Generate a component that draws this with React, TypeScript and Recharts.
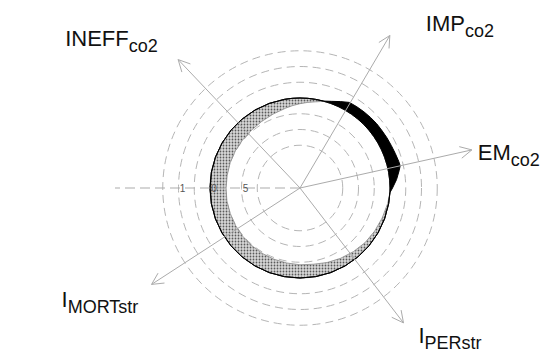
import React from 'react';
import { RadarChart, Radar, PolarGrid, PolarAngleAxis, PolarRadiusAxis } from 'recharts';

// angle (deg, counter-clockwise from east) -> indicator value, 1 = reference circle
const angles = [
  0, 5, 10, 12.5, 15, 20, 25, 30, 35, 40, 45, 50, 55, 60, 65, 70, 75, 80, 85, 90, 95, 100,
  110, 120, 130, 140, 150, 160, 170, 180, 190, 200, 210, 220, 230, 240, 250, 260, 270, 280,
  290, 300, 310, 320, 330, 340, 350, 357,
];
const values = [
  1.04, 1.11, 1.17, 1.2, 1.195, 1.18, 1.17, 1.165, 1.16, 1.16, 1.155, 1.15, 1.145, 1.14,
  1.085, 1.035, 0.995, 0.96, 0.935, 0.91, 0.885, 0.86, 0.82, 0.79, 0.77, 0.76, 0.755, 0.75,
  0.745, 0.745, 0.75, 0.75, 0.755, 0.76, 0.765, 0.77, 0.775, 0.78, 0.79, 0.8, 0.83, 0.86,
  0.89, 0.92, 0.94, 0.96, 0.985, 1.0,
];

// axes
const axisAngles = [12.5, 59.5, 133.5, 180, 213, 307.5];
const axisNames = ['EM', 'IMP', 'INEFF', '', 'I', 'I'];
const axisSubs = ['co2', 'co2', 'co2', '', 'MORTstr', 'PERstr'];

// radial rings and their labels
const ringTicks = [0.25, 0.5, 0.75, 1, 1.25, 1.5, 1.75];
const labelTicks = [0.5, 1, 1.5];
const labelTexts = ['5', '0', '1'];

const data = angles.map((a, i) => ({ angle: a, value: values[i] }));

const CX = 300;
const CY = 188;
const FONT = '"Liberation Sans", Arial, Helvetica, sans-serif';
const AXIS_COLOR = '#ababab';

// per-axis drawing style (length of arrow, label offset from tip)
const axisLen = [176, 177, 177, 185, 177, 170];
const labelOffset: [number, number][] = [
  [6, 10],
  [36, -4],
  [-113, -14],
  [0, 0],
  [-90, 23],
  [15, 20],
];

const toXY = (r: number, deg: number) => {
  const rad = (-deg * Math.PI) / 180;
  return { x: CX + r * Math.cos(rad), y: CY + r * Math.sin(rad) };
};

const AxisTick = (props: any) => {
  const { index, payload } = props;
  const deg = payload?.coordinate ?? payload?.value ?? 0;
  const tip = toXY(axisLen[index], deg);
  const dashed = !axisNames[index];
  const leg = 13;
  const back = deg + 180;
  const a1 = { x: tip.x + leg * Math.cos((-(back + 27) * Math.PI) / 180), y: tip.y + leg * Math.sin((-(back + 27) * Math.PI) / 180) };
  const a2 = { x: tip.x + leg * Math.cos((-(back - 27) * Math.PI) / 180), y: tip.y + leg * Math.sin((-(back - 27) * Math.PI) / 180) };
  const [ox, oy] = labelOffset[index];
  return (
    <g>
      <line
        x1={CX}
        y1={CY}
        x2={tip.x}
        y2={tip.y}
        stroke={AXIS_COLOR}
        strokeWidth={1}
        strokeDasharray={dashed ? '10 5' : undefined}
      />
      {!dashed && (
        <polyline
          points={`${a1.x},${a1.y} ${tip.x},${tip.y} ${a2.x},${a2.y}`}
          fill="none"
          stroke={AXIS_COLOR}
          strokeWidth={1}
        />
      )}
      {!dashed && (
        <text x={tip.x + ox} y={tip.y + oy} fontFamily={FONT} fontSize={22} fill="#111">
          <tspan>{axisNames[index]}</tspan>
          <tspan dy={6} fontSize={18}>
            {axisSubs[index]}
          </tspan>
        </text>
      )}
    </g>
  );
};

const RingTick = (props: any) => {
  const { x, y, payload } = props;
  const k = labelTicks.indexOf(payload?.value);
  if (k < 0) return null;
  return (
    <text x={x + 4} y={y + 3.5} textAnchor="middle" fontFamily={FONT} fontSize={10} fill="#555">
      {labelTexts[k]}
    </text>
  );
};

export default function App() {
  return (
    <div style={{ position: 'absolute', left: 0, top: 0, width: 547, height: 354, background: '#fff' }}>
      <svg width={0} height={0} style={{ position: 'absolute' }}>
        <defs>
          <pattern id="stipple" width={3} height={3} patternUnits="userSpaceOnUse">
            <rect width={3} height={3} fill="#d8d8d8" />
            <circle cx={1.5} cy={1.5} r={0.9} fill="#5a5a5a" />
          </pattern>
        </defs>
      </svg>
      <RadarChart
        width={547}
        height={354}
        data={data}
        cx={CX}
        cy={CY}
        innerRadius={27}
        outerRadius={153}
        startAngle={0}
        endAngle={360}
        margin={{ top: 0, right: 0, bottom: 0, left: 0 }}
      >
        <PolarGrid gridType="circle" radialLines={false} stroke="#b5b5b5" strokeDasharray="8 5" />
        <PolarAngleAxis
          dataKey="angle"
          type="number"
          domain={[0, 360]}
          ticks={axisAngles}
          tick={<AxisTick />}
          tickLine={false}
          axisLine={false}
        />
        <PolarRadiusAxis
          angle={180}
          type="number"
          domain={[0, 1.75]}
          ticks={ringTicks}
          tick={<RingTick />}
          axisLine={false}
          tickLine={false}
        />
        <Radar
          dataKey={(d: any) => [Math.min(d.value, 1), 1]}
          fill="url(#stipple)"
          fillOpacity={1}
          stroke="#8a8a8a"
          strokeWidth={0.8}
          isAnimationActive={false}
          dot={false}
        />
        <Radar
          dataKey={(d: any) => [1, Math.max(d.value, 1)]}
          fill="#000"
          fillOpacity={1}
          stroke="#000"
          strokeWidth={1}
          isAnimationActive={false}
          dot={false}
        />
      </RadarChart>
    </div>
  );
}
